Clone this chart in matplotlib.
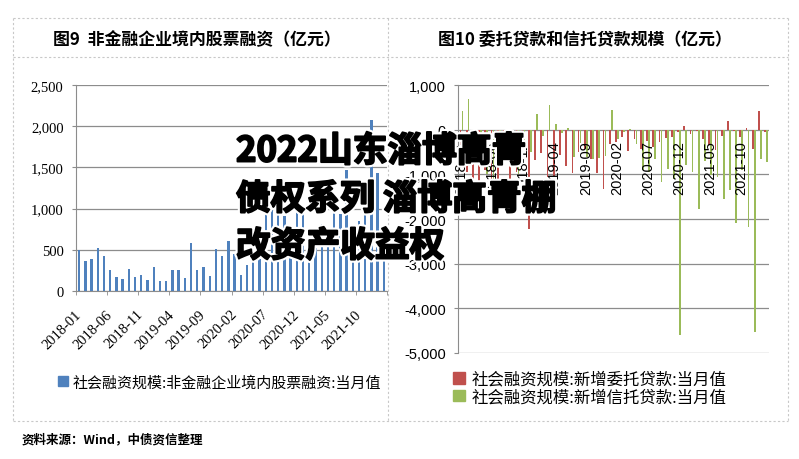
import matplotlib.pyplot as plt
import matplotlib.patheffects as pe
from matplotlib.lines import Line2D
from matplotlib.patches import Patch
from matplotlib.ticker import FuncFormatter
import numpy as np

plt.rcParams['font.family'] = ['Noto Sans CJK SC', 'DejaVu Sans']

# monthly categories 2018-01 .. 2022-02
months = [f'{2018 + i // 12}-{i % 12 + 1:02d}' for i in range(50)]
tick_labels = ['2018-01', '2018-06', '2018-11', '2019-04', '2019-09',
               '2020-02', '2020-07', '2020-12', '2021-05', '2021-10']

# 图9 非金融企业境内股票融资 (亿元)
stock = [500, 370, 390, 525, 430, 255, 167, 143, 266, 171,
         190, 131, 286, 123, 123, 254, 254, 155, 587, 254,
         286, 179, 512, 421, 605, 448, 195, 320, 380, 480,
         990, 1270, 1010, 910, 760, 1030, 960, 700, 770, 810,
         690, 960, 930, 1470, 760, 850, 1050, 2080, 1430, 600]

# 图10 新增委托贷款 / 新增信托贷款 (亿元)
entrust = [-350, -950, -1300, -1150, -900, -1700, -1100, -700, -1350, -950,
           -520, -2220, -690, -520, -1060, -1045, -560, -820, -980, -500,
           -430, -650, -960, -1320, -330, -280, -165, -480, -200, -440,
           -250, -390, -280, -180, -165, -60, 90, -100, -30, -220,
           -350, -460, -140, 186, -30, -165, 45, -425, 425, -50]
trust = [410, 680, -300, -450, -1000, -1450, -300, -700, -400, -1000,
         -350, -500, 340, -150, 545, 135, -80, 40, -620, -300,
         -620, -650, -640, -580, 430, -220, -60, 20, -320, -900,
         -950, -650, -1170, -873, -1100, -4590, -800, -940, -1785, -700,
         -1020, -1060, -1560, -1360, -2100, -900, -2190, -4530, -650, -730]

blue = '#4F81BD'
red = '#C0504D'
green = '#9BBB59'
grid_c = '#8C8C8C'

W, H = 799, 460
fig = plt.figure(figsize=(W / 100, H / 100), dpi=100)
fig.patch.set_facecolor('white')


def box(x0, y0, x1, y1):
    return [x0 / W, 1 - y1 / H, (x1 - x0) / W, (y1 - y0) / H]


comma = FuncFormatter(lambda v, p: f'{v:,.0f}')
x = np.arange(len(months))

# ---- left chart
ax1 = fig.add_axes(box(76, 86, 387, 292))
ax1.bar(x, stock, 0.38, color=blue, zorder=3)
ax1.set_xlim(-0.5, len(months) - 0.5)
ax1.set_ylim(0, 2500)
ax1.set_yticks(range(0, 2501, 500))
ax1.yaxis.set_major_formatter(comma)
ax1.grid(axis='y', color=grid_c, lw=0.9, zorder=0)
for s in ['top', 'right']:
    ax1.spines[s].set_visible(False)
for s in ['left', 'bottom']:
    ax1.spines[s].set_color(grid_c)
ax1.set_xticks(np.arange(-0.5, len(months), 5), minor=True)
ax1.set_xticks(np.arange(0, len(months), 5))
ax1.set_xticklabels(tick_labels, rotation=45, ha='right', va='center',
                    rotation_mode='anchor', family='Liberation Serif', fontsize=10.5)
ax1.tick_params(axis='x', which='major', length=0, pad=15)
ax1.tick_params(axis='x', which='minor', length=3, color=grid_c)
ax1.tick_params(axis='y', length=3, color=grid_c, pad=6)
for t in ax1.get_yticklabels():
    t.set_family('Liberation Serif')
    t.set_fontsize(10.5)

# ---- right chart
ax2 = fig.add_axes(box(458.3, 86, 769.3, 354))
ax2.bar(x - 0.16, entrust, 0.28, color=red, zorder=3)
ax2.bar(x + 0.16, trust, 0.28, color=green, zorder=3)
ax2.set_xlim(-0.5, len(months) - 0.5)
ax2.set_ylim(-5000, 1000)
ax2.set_yticks(range(-5000, 1001, 1000))
ax2.yaxis.set_major_formatter(comma)
ax2.grid(axis='y', color=grid_c, lw=0.9, zorder=0)
for s in ['top', 'right', 'bottom']:
    ax2.spines[s].set_visible(False)
ax2.spines['left'].set_color(grid_c)
ax2.set_xticks([])
ax2.tick_params(axis='y', length=3, color=grid_c, pad=6)
for t in ax2.get_yticklabels():
    t.set_family('Liberation Sans')
    t.set_fontsize(10.5)
for i, lab in zip(range(0, len(months), 5), tick_labels):
    ax2.text(i, -230, lab, rotation=90, ha='center', va='top',
             family='Liberation Sans', fontsize=10.5, zorder=4)

# ---- titles
fig.text(197 / W, 1 - 40 / H, '图9  非金融企业境内股票融资（亿元）',
         ha='center', va='center', fontsize=12.2, fontweight='bold')
fig.text(585 / W, 1 - 40 / H, '图10 委托贷款和信托贷款规模（亿元）',
         ha='center', va='center', fontsize=12.2, fontweight='bold')

# ---- legends
fig.legend(handles=[Patch(color=blue, label='社会融资规模:非金融企业境内股票融资:当月值')],
           loc='center left', bbox_to_anchor=(50 / W, 1 - 383 / H), frameon=False,
           fontsize=10.8, handlelength=0.7, handleheight=0.7, handletextpad=0.3, borderpad=0)
fig.legend(handles=[Patch(color=red, label='社会融资规模:新增委托贷款:当月值'),
                    Patch(color=green, label='社会融资规模:新增信托贷款:当月值')],
           loc='center left', bbox_to_anchor=(445 / W, 1 - 389 / H), frameon=False,
           fontsize=11.8, handlelength=0.7, handleheight=0.7, handletextpad=0.4,
           borderpad=0, labelspacing=0.05)

# ---- dashed panel frame
dash = dict(color='#C8C8C8', lw=0.8, ls=(0, (2, 2)), transform=fig.transFigure)
for (x0, y0, x1, y1) in [(13, 19, 788, 19), (13, 58, 788, 58), (13, 422, 788, 422),
                         (13, 19, 13, 422), (388, 19, 388, 422), (788, 19, 788, 422)]:
    fig.add_artist(Line2D([x0 / W, x1 / W], [1 - y0 / H, 1 - y1 / H], **dash))

# ---- footer
fig.text(22 / W, 1 - 440 / H, '资料来源：Wind，中债资信整理',
         ha='left', va='center', fontsize=9, fontweight='bold')

# ---- overlay caption (heavy black with white halo)
stroke = [pe.withStroke(linewidth=4.5, foreground='white'),
          pe.Stroke(linewidth=1.4, foreground='black'), pe.Normal()]
for txt, yc in [('2022山东淄博高青', 152), ('债权系列 淄博高青棚', 200), ('改资产收益权', 247)]:
    fig.text(236 / W, 1 - yc / H, txt, ha='left', va='center', fontsize=25,
             fontweight='black', color='black', path_effects=stroke, zorder=20)

fig.savefig('out.png', dpi=100)
